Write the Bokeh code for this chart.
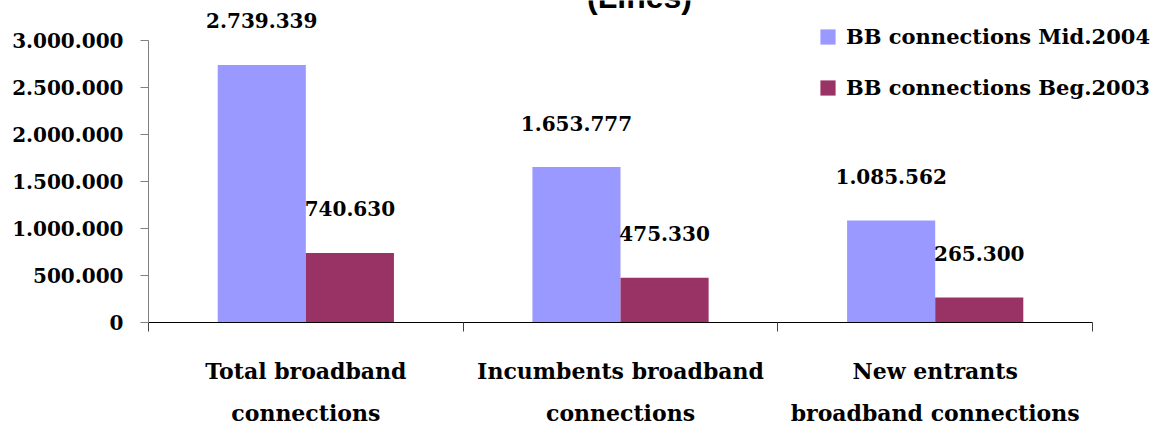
from bokeh.plotting import figure
from bokeh.models import ColumnDataSource, FixedTicker, Range1d, Label, Legend, LegendItem
from bokeh.core.properties import value
from bokeh.embed import file_html
from bokeh.resources import INLINE

# Broadband connections by operator type (lines)
categories = ["Total broadband\nconnections",
              "Incumbents broadband\nconnections",
              "New entrants\nbroadband connections"]
mid_2004 = [2739339, 1653777, 1085562]
beg_2003 = [740630, 475330, 265300]
series_names = ["BB connections Mid.2004", "BB connections Beg.2003"]
y_ticks = [0, 500000, 1000000, 1500000, 2000000, 2500000, 3000000]
y_tick_labels = ["0", "500.000", "1.000.000", "1.500.000", "2.000.000", "2.500.000", "3.000.000"]

BLUE = "#9999FF"
PLUM = "#993366"
SERIF = "DejaVu Serif"


def dotted(v):
    return f"{v:,}".replace(",", ".")


centers = [i + 0.5 for i in range(len(categories))]
bar_w = 0.28
src_a = ColumnDataSource(dict(x=[c - bar_w / 2 for c in centers], top=mid_2004,
                              lab=[dotted(v) for v in mid_2004]))
src_b = ColumnDataSource(dict(x=[c + bar_w / 2 for c in centers], top=beg_2003,
                              lab=[dotted(v) for v in beg_2003]))

p = figure(frame_width=1012, frame_height=322,
           x_range=Range1d(0, 3.216), y_range=Range1d(0, 3425500),
           output_backend="svg", toolbar_location=None,
           min_border_left=148, min_border_right=0, min_border_top=0, min_border_bottom=0)
p.outline_line_color = None
p.xgrid.visible = False
p.ygrid.visible = False
p.background_fill_color = "white"
p.border_fill_color = "white"

ra = p.vbar(x="x", top="top", width=bar_w, source=src_a, fill_color=BLUE, line_color=None)
rb = p.vbar(x="x", top="top", width=bar_w, source=src_b, fill_color=PLUM, line_color=None)

for src in (src_a, src_b):
    p.text(x="x", y="top", text="lab", source=src, text_align="center",
           text_baseline="middle", y_offset=-44, text_font=value(SERIF),
           text_font_style="bold", text_font_size="20px", text_color="black")

# y axis
ya = p.yaxis[0]
ya.ticker = FixedTicker(ticks=y_ticks)
ya.major_label_overrides = {t: l for t, l in zip(y_ticks, y_tick_labels)}
ya.bounds = (0, y_ticks[-1])
ya.axis_line_color = "#808080"
ya.major_tick_line_color = "#808080"
ya.major_tick_out = 8
ya.major_tick_in = 0
ya.minor_tick_line_color = None
ya.major_label_standoff = 17
ya.major_label_text_font = SERIF
ya.major_label_text_font_style = "bold"
ya.major_label_text_font_size = "20px"
ya.major_label_text_color = "black"
ya.major_label_text_baseline = "bottom"

# x axis: labels at category centres, tick marks on the boundaries
xa = p.xaxis[0]
xa.ticker = FixedTicker(ticks=centers, minor_ticks=list(range(len(categories) + 1)))
xa.major_label_overrides = {c: n for c, n in zip(centers, categories)}
xa.bounds = (0, len(categories))
xa.axis_line_color = "black"
xa.major_tick_line_color = None
xa.major_tick_out = 0
xa.major_tick_in = 0
xa.minor_tick_line_color = "#404040"
xa.minor_tick_out = 9
xa.minor_tick_in = 0
xa.major_label_standoff = 26
xa.major_label_text_font = SERIF
xa.major_label_text_font_style = "bold"
xa.major_label_text_font_size = "22px"
xa.major_label_text_line_height = 1.65
xa.major_label_text_color = "black"

legend = Legend(items=[LegendItem(label=series_names[0], renderers=[ra]),
                       LegendItem(label=series_names[1], renderers=[rb])],
                location=(670, 222), orientation="vertical",
                glyph_width=19, glyph_height=19, label_standoff=9, spacing=26,
                padding=0, margin=0, border_line_color=None, background_fill_alpha=0,
                label_text_font=SERIF, label_text_font_style="bold",
                label_text_font_size="21px", label_text_color="black")
p.add_layout(legend, "center")

p.add_layout(Label(x=491, y=326, x_units="screen", y_units="screen", text="(Lines)",
                   text_align="center", text_baseline="alphabetic",
                   text_font="Liberation Sans", text_font_style="bold",
                   text_font_size="32px", text_color="black"))

open("out.html", "w").write(file_html(p, INLINE))
